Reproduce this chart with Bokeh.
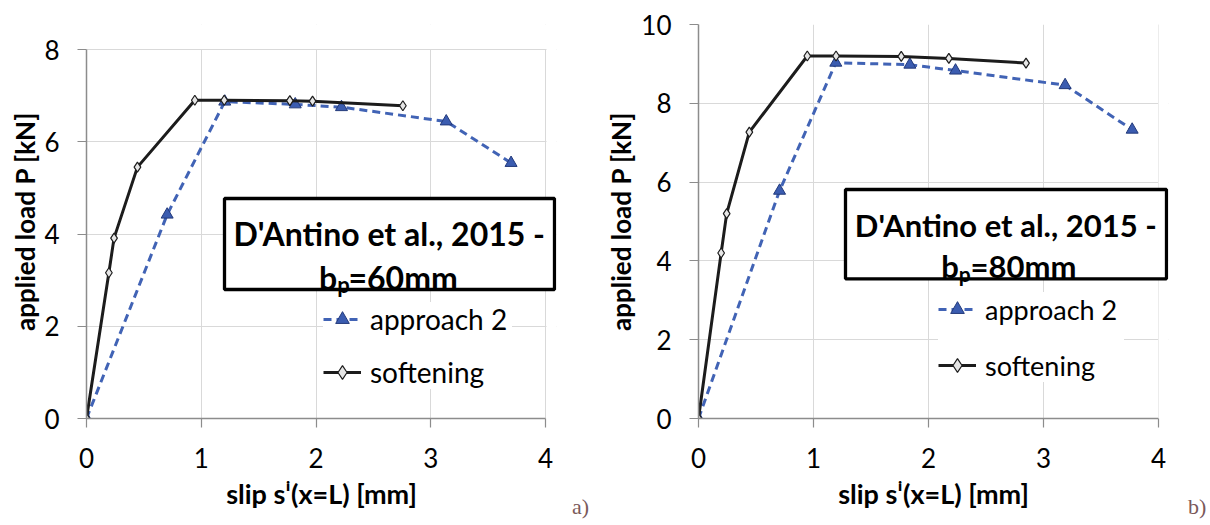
from bokeh.plotting import figure
from bokeh.layouts import row
from bokeh.models import Range1d, FixedTicker, Legend, LegendItem, Label, BoxAnnotation, Div
from bokeh.embed import file_html
from bokeh.resources import INLINE

# ---------------- data ----------------
x_ticks = [0, 1, 2, 3, 4]
a_y_ticks = [0, 2, 4, 6, 8]
b_y_ticks = [0, 2, 4, 6, 8, 10]

# panel a) bp = 60 mm
a_soft_x = [0, 0.195, 0.24, 0.444, 0.944, 1.2, 1.772, 1.97, 2.757]
a_soft_y = [0, 3.16, 3.91, 5.45, 6.90, 6.90, 6.89, 6.88, 6.78]
a_app_x = [0, 0.703, 1.205, 1.819, 2.222, 3.135, 3.70]
a_app_y = [0, 4.42, 6.87, 6.81, 6.75, 6.44, 5.54]

# panel b) bp = 80 mm
b_soft_x = [0, 0.197, 0.245, 0.442, 0.946, 1.196, 1.763, 2.177, 2.848]
b_soft_y = [0, 4.20, 5.20, 7.27, 9.20, 9.20, 9.19, 9.14, 9.02]
b_app_x = [0, 0.705, 1.194, 1.838, 2.235, 3.188, 3.771]
b_app_y = [0, 5.78, 9.03, 8.98, 8.83, 8.46, 7.33]

x_label = "slip s\u2071(x=L) [mm]"
y_label = "applied load P [kN]"
legend_labels = ["approach 2", "softening"]
box_line1 = "D'Antino et al., 2015 -"
a_line2 = ["b", "p", "=60mm"]
b_line2 = ["b", "p", "=80mm"]
tags = ["a)", "b)"]

FONT = "Lato"
GRID = "#d9d9d9"
AXIS = "#8c8c8c"
BLUE = "#4163b5"
TRI_FILL = "#3b5cb0"
TRI_LINE = "#22397a"
BLACK = "#1c1c1c"

FRAME_W = 470
FRAME_H = 394
TOP = 24
BOTTOM = 100


def make_panel(ppu_x, y_top, mb_left, mb_right, y_ticks, soft_x, soft_y, app_x, app_y,
               line2, cfg):
    x_end = FRAME_W / ppu_x  # a little room right of x=4 so the text box fits
    p = figure(frame_width=FRAME_W, frame_height=FRAME_H,
               x_range=Range1d(0, x_end), y_range=Range1d(0, y_top),
               output_backend="svg", toolbar_location=None,
               min_border_left=mb_left, min_border_right=mb_right,
               min_border_top=TOP, min_border_bottom=BOTTOM)
    p.outline_line_color = None
    p.background_fill_color = "white"
    p.border_fill_color = "white"

    p.xaxis.ticker = FixedTicker(ticks=x_ticks)
    p.yaxis.ticker = FixedTicker(ticks=y_ticks)
    p.xaxis.bounds = (x_ticks[0], x_ticks[-1])
    p.yaxis.bounds = (y_ticks[0], y_ticks[-1])
    for ax in (p.xaxis[0], p.yaxis[0]):
        ax.axis_line_color = AXIS
        ax.axis_line_width = 1.5
        ax.major_tick_line_color = AXIS
        ax.major_tick_line_width = 1.2
        ax.major_tick_in = 0
        ax.major_tick_out = 9
        ax.minor_tick_line_color = None
        ax.major_label_text_font = FONT
        ax.major_label_text_font_size = "26px"
        ax.major_label_text_color = "black"
        ax.axis_label_text_font = FONT
        ax.axis_label_text_font_style = "bold"
        ax.axis_label_text_color = "black"
    p.xaxis.axis_label_text_font_size = "27px"
    p.yaxis.axis_label_text_font_size = "26px"
    p.xaxis.axis_label = x_label
    p.yaxis.axis_label = y_label
    p.xaxis.major_label_standoff = 20
    p.yaxis.major_label_standoff = cfg["ystand"]
    p.xaxis.axis_label_standoff = 6
    p.yaxis.axis_label_standoff = cfg["ylab_stand"]
    p.grid.grid_line_color = GRID
    p.grid.grid_line_width = 1

    r_app_l = p.line(app_x, app_y, line_color=BLUE, line_width=3, line_dash="8 5")
    r_app_m = p.scatter(app_x, app_y, marker="triangle", size=12,
                        fill_color=TRI_FILL, line_color=TRI_LINE, line_width=1)
    r_soft_l = p.line(soft_x, soft_y, line_color=BLACK, line_width=3)
    r_soft_m = p.scatter(soft_x, soft_y, marker="diamond", size=10,
                         fill_color="#e6e6e6", line_color=BLACK, line_width=1.2)

    # white strips hiding grid lines right of x = 4 and above the top tick
    p.add_layout(BoxAnnotation(left=460, left_units="screen",
                               fill_color="white", fill_alpha=1.0, line_color=None))
    if cfg["mask_top"] is not None:
        p.add_layout(BoxAnnotation(bottom=cfg["mask_top"], bottom_units="screen",
                                   fill_color="white", fill_alpha=1.0, line_color=None))

    legend = Legend(
        items=[LegendItem(label=legend_labels[0], renderers=[r_app_l, r_app_m]),
               LegendItem(label=legend_labels[1], renderers=[r_soft_l, r_soft_m])],
        location=cfg["leg_loc"], orientation="vertical",
        padding=22, margin=0, spacing=cfg["leg_sp"],
        glyph_width=38, glyph_height=34, label_height=34,
        label_width=cfg["leg_lw"], label_standoff=9,
        label_text_font=FONT, label_text_font_size=cfg["leg_fs"],
        label_text_color="black",
        background_fill_color="white", background_fill_alpha=1.0,
        border_line_color=None)
    p.add_layout(legend, "center")

    bl, br, bb, bt = cfg["box"]
    box = BoxAnnotation(left=bl, right=br, bottom=bb, top=bt,
                        left_units="screen", right_units="screen",
                        bottom_units="screen", top_units="screen",
                        fill_color="white", fill_alpha=1.0,
                        line_color="black", line_width=3.3, line_alpha=1.0)
    p.add_layout(box)

    fs = cfg["box_fs"]
    lx, ly = cfg["line1"]
    p.add_layout(Label(x=lx, y=ly, x_units="screen", y_units="screen",
                       text=box_line1, text_align="center", text_baseline="alphabetic",
                       text_font=FONT, text_font_style="bold", text_font_size=fs,
                       text_color="black"))
    bx, by, sy, ex = cfg["line2"]
    p.add_layout(Label(x=bx, y=by, x_units="screen", y_units="screen",
                       text=line2[0], text_align="right", text_baseline="alphabetic",
                       text_font=FONT, text_font_style="bold", text_font_size=fs,
                       text_color="black"))
    p.add_layout(Label(x=bx, y=sy, x_units="screen", y_units="screen",
                       text=line2[1], text_align="left", text_baseline="alphabetic",
                       text_font=FONT, text_font_style="bold", text_font_size=cfg["sub_fs"],
                       text_color="black"))
    p.add_layout(Label(x=ex, y=by, x_units="screen", y_units="screen",
                       text=line2[2], text_align="left", text_baseline="alphabetic",
                       text_font=FONT, text_font_style="bold", text_font_size=fs,
                       text_color="black"))
    return p


def tag_div(tag, width, pad_left):
    html = ('<div style="padding-top:497px; padding-left:%dpx; '
            'font-family:\'Liberation Serif\', serif; font-size:22px; line-height:20px; '
            'color:#7b5a5a; white-space:nowrap;">%s</div>' % (pad_left, tag))
    return Div(text=html, width=width, height=FRAME_H + TOP + BOTTOM, margin=0)


# left panel: frame x 86..556 (x=4 at 545), y=8 at 49, y=0 at 418
cfg_a = dict(ystand=18, ylab_stand=0,
             mask_top=369.6,
             leg_loc=(237, 29), leg_sp=19, leg_lw=142, leg_fs="28px",
             box=(138, 468, 129, 220), box_fs="32px", sub_fs="22px",
             line1=(302.7, 184.7), line2=(250.7, 141.3, 133.8, 262.0))
# right panel: frame x 698..1168 (x=4 at 1158), y=10 at 24, y=0 at 418
cfg_b = dict(ystand=18, ylab_stand=1,
             mask_top=None,
             leg_loc=(240, 36), leg_sp=22, leg_lw=139, leg_fs="27px",
             box=(147, 468, 139.7, 229), box_fs="31px", sub_fs="21px",
             line1=(307.3, 193.7), line2=(260.3, 153.0, 144.6, 272.0))

a_ppu_y = (418 - 49) / 8.0
pa = make_panel(114.75, FRAME_H / a_ppu_y, 86, 16, a_y_ticks,
                a_soft_x, a_soft_y, a_app_x, a_app_y, a_line2, cfg_a)
pb = make_panel(115.0, 10, 100, 16, b_y_ticks,
                b_soft_x, b_soft_y, b_app_x, b_app_y, b_line2, cfg_b)

layout = row(pa, tag_div(tags[0], 26, 0), pb, tag_div(tags[1], 24, 4))
open("out.html", "w").write(file_html(layout, INLINE))
